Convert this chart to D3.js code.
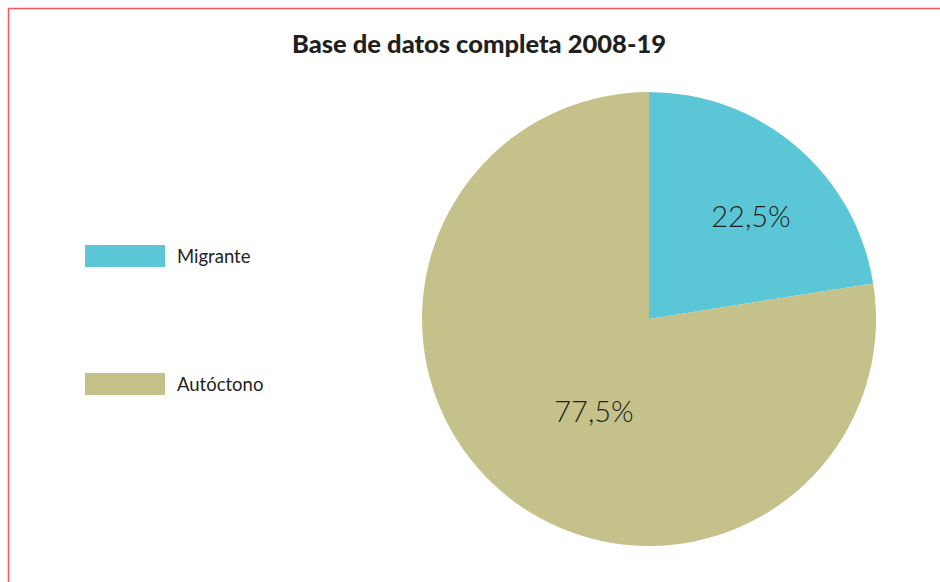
<!DOCTYPE html>
<html><head><meta charset="utf-8">
<script src="https://cdn.jsdelivr.net/npm/d3@7"></script>
<style>body{margin:0;background:#fff}svg{display:block}</style>
</head><body>
<svg id="c" width="940" height="582"></svg>
<script>
const categories = ["Migrante", "Autóctono"];
const values = [22.5, 77.5];
const labels = ["22,5%", "77,5%"];
const colors = ["#5BC6D6", "#C4C28A"];
const title = "Base de datos completa 2008-19";

const svg = d3.select("#c");
// frame
svg.append("path").attr("d","M8.5,582 V8.5 H940").attr("fill","none").attr("stroke","#F0595E").attr("stroke-width",1.5);

svg.append("text").attr("x",479).attr("y",53).attr("text-anchor","middle")
  .attr("font-family","Lato, 'Open Sans', sans-serif").attr("font-weight",900)
  .attr("font-size",25.5).attr("fill","#231f20").text(title);

const cx = 649, cy = 319, r = 227;
const pie = d3.pie().sort(null).value(d=>d)(values);
const arc = d3.arc().innerRadius(0).outerRadius(r);
const g = svg.append("g").attr("transform",`translate(${cx},${cy})`);
g.selectAll("path").data(pie).join("path").attr("d",arc).attr("fill",(d,i)=>colors[i]);

const labelPos = [[102, -104], [-55, 91]];
g.selectAll("text").data(pie).join("text")
  .attr("x",(d,i)=>labelPos[i][0]).attr("y",(d,i)=>labelPos[i][1])
  .attr("text-anchor","middle").attr("dominant-baseline","central")
  .attr("font-family","Lato, sans-serif").attr("font-weight",300)
  .attr("font-size",29).attr("fill","#231f20").text((d,i)=>labels[i]);

const leg = svg.append("g");
const ly = [256, 384];
categories.forEach((c,i)=>{
  leg.append("rect").attr("x",85).attr("y",ly[i]-11).attr("width",80).attr("height",22).attr("fill",colors[i]);
  leg.append("text").attr("x",177).attr("y",ly[i]).attr("dominant-baseline","central")
    .attr("font-family","Lato, sans-serif").attr("font-size",18.5).attr("fill","#231f20").text(c);
});
</script>
</body></html>
